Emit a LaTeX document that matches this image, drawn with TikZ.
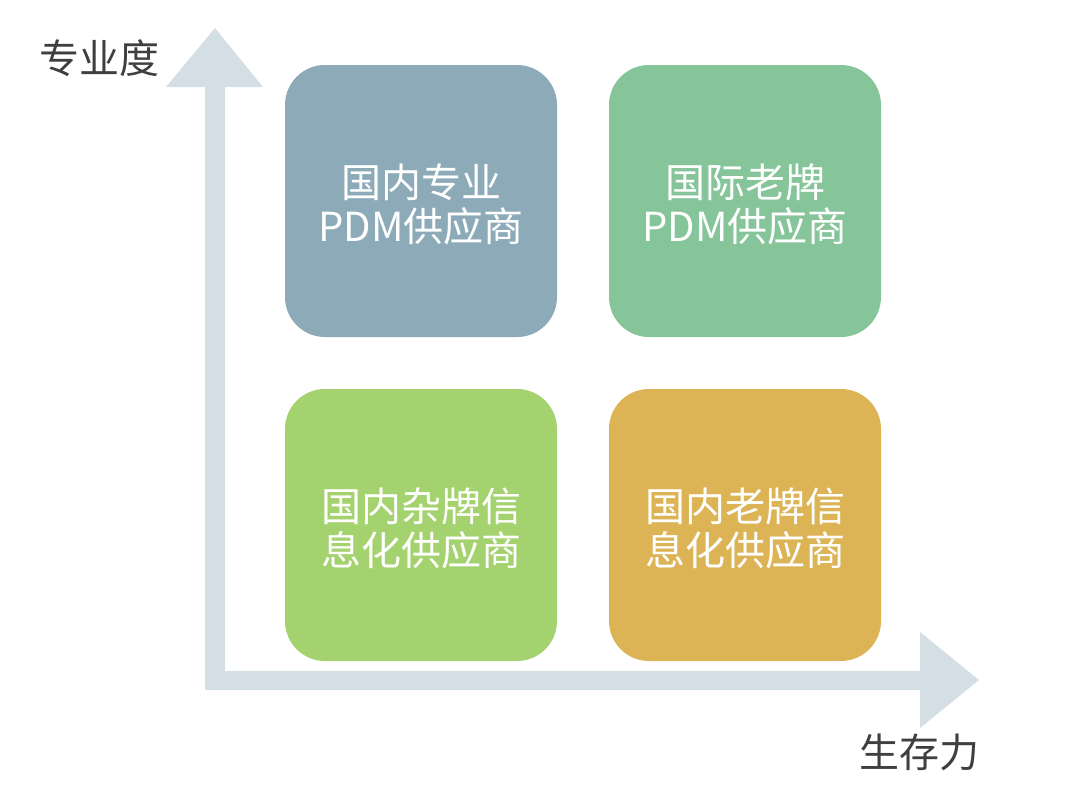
\documentclass[tikz,border=0pt]{standalone}
\usepackage{fontspec}
\setmainfont{Noto Sans CJK SC}
\definecolor{axiscol}{HTML}{D3DEE5}
\definecolor{boxA}{HTML}{8DAAB8}
\definecolor{boxB}{HTML}{86C49A}
\definecolor{boxC}{HTML}{A3D26E}
\definecolor{boxD}{HTML}{DCB456}
\definecolor{labcol}{HTML}{3F3F3F}
\begin{document}
\begin{tikzpicture}[x=1pt,y=-1pt,
  quad/.style={rounded corners=40pt, minimum width=272pt, minimum height=272pt,
    inner sep=0pt},
  quadtext/.style={inner sep=0pt, text=white, align=center, font=\fontsize{40}{44}\selectfont},
  axislabel/.style={text=labcol, inner sep=0pt, font=\fontsize{40}{44}\selectfont}]
\useasboundingbox (0,0) rectangle (1080,787);
% axes
\fill[axiscol] (166,87) -- (215,28) -- (263,87) -- (225,87) -- (225,671) -- (920,671)
  -- (920,632) -- (979,680) -- (920,728) -- (920,690) -- (205,690) -- (205,87) -- cycle;
% quadrants
\node[quad, fill=boxA] (q1) at (421,201) {};
\node[quad, fill=boxB] (q2) at (745,201) {};
\node[quad, fill=boxC] (q3) at (421,525) {};
\node[quad, fill=boxD] (q4) at (745,525) {};
\node[quadtext] (t1) at ([yshift=-3pt]q1.center) {国内专业\\PDM供应商};
\node[quadtext] (t2) at ([yshift=-3pt]q2.center) {国际老牌\\PDM供应商};
\node[quadtext] (t3) at ([yshift=-3pt]q3.center) {国内杂牌信\\息化供应商};
\node[quadtext] (t4) at ([yshift=-3pt]q4.center) {国内老牌信\\息化供应商};
% axis labels
\node[axislabel] (ylab) at (99,58) {专业度};
\node[axislabel] (xlab) at (919,752) {生存力};
\end{tikzpicture}
\end{document}
